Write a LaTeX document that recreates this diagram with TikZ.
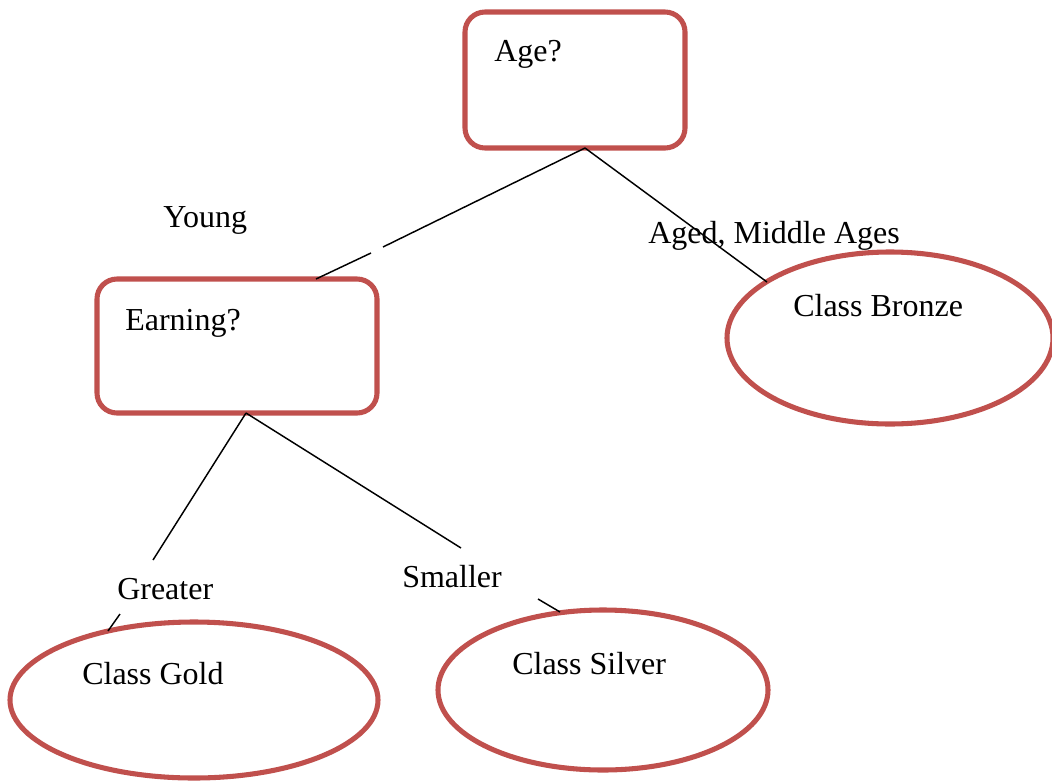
\documentclass[tikz,border=0pt]{standalone}
\usepackage{fontspec}
\setmainfont{Liberation Serif}
\usetikzlibrary{shapes.geometric}
\definecolor{boxred}{HTML}{C0504D}
\begin{document}
\begin{tikzpicture}[x=0.75pt,y=-0.75pt,
  decision/.style={draw=boxred, line width=3.8pt, rounded corners=15pt, fill=none},
  leaf/.style={ellipse, draw=boxred, line width=3.8pt, inner sep=0pt},
  txt/.style={anchor=base west, inner sep=0pt, font=\fontsize{24}{28}\selectfont},
  edge/.style={draw=black, line width=1.1pt}]
\useasboundingbox (0,0) rectangle (1052,782);

% decision boxes
\node[decision, minimum width=165pt, minimum height=102pt] (age) at (575,80) {};
\node[decision, minimum width=210pt, minimum height=100.5pt] (earn) at (237,346) {};

% leaf classes
\node[leaf, minimum width=244.5pt, minimum height=129pt] (bronze) at (890,338) {};
\node[leaf, minimum width=276pt, minimum height=117pt] (gold) at (194,700) {};
\node[leaf, minimum width=247.5pt, minimum height=120pt] (silver) at (603,690) {};

% texts
\node[txt] (tage) at (494,61) {Age?};
\node[txt] (tearn) at (125,330) {Earning?};
\node[txt] (tbronze) at (793,316) {Class Bronze};
\node[txt] (tgold) at (82,684) {Class Gold};
\node[txt] (tsilver) at (512,674) {Class Silver};
\node[txt] (tyoung) at (163,227) {Young};
\node[txt] (taged) at (648,243) {Aged, Middle Ages};
\node[txt] (tgreater) at (117,599) {Greater};
\node[txt] (tsmaller) at (402,587) {Smaller};

% connector end points
\coordinate (a1) at (585,148);
\coordinate (y1) at (383,247);
\coordinate (y2) at (371,253);
\coordinate (e1) at (316,279);
\coordinate (b1) at (767,282);
\coordinate (e2) at (246,413);
\coordinate (g1) at (153,560);
\coordinate (g2) at (120,614);
\coordinate (g3) at (108,631);
\coordinate (s1) at (461,548);
\coordinate (s2) at (538,599);
\coordinate (s3) at (560,612);

% connectors
\draw[edge] (a1) -- (y1);
\draw[edge] (y2) -- (e1);
\draw[edge] (a1) -- (b1);
\draw[edge] (e2) -- (g1);
\draw[edge] (g2) -- (g3);
\draw[edge] (e2) -- (s1);
\draw[edge] (s2) -- (s3);
\end{tikzpicture}
\end{document}
